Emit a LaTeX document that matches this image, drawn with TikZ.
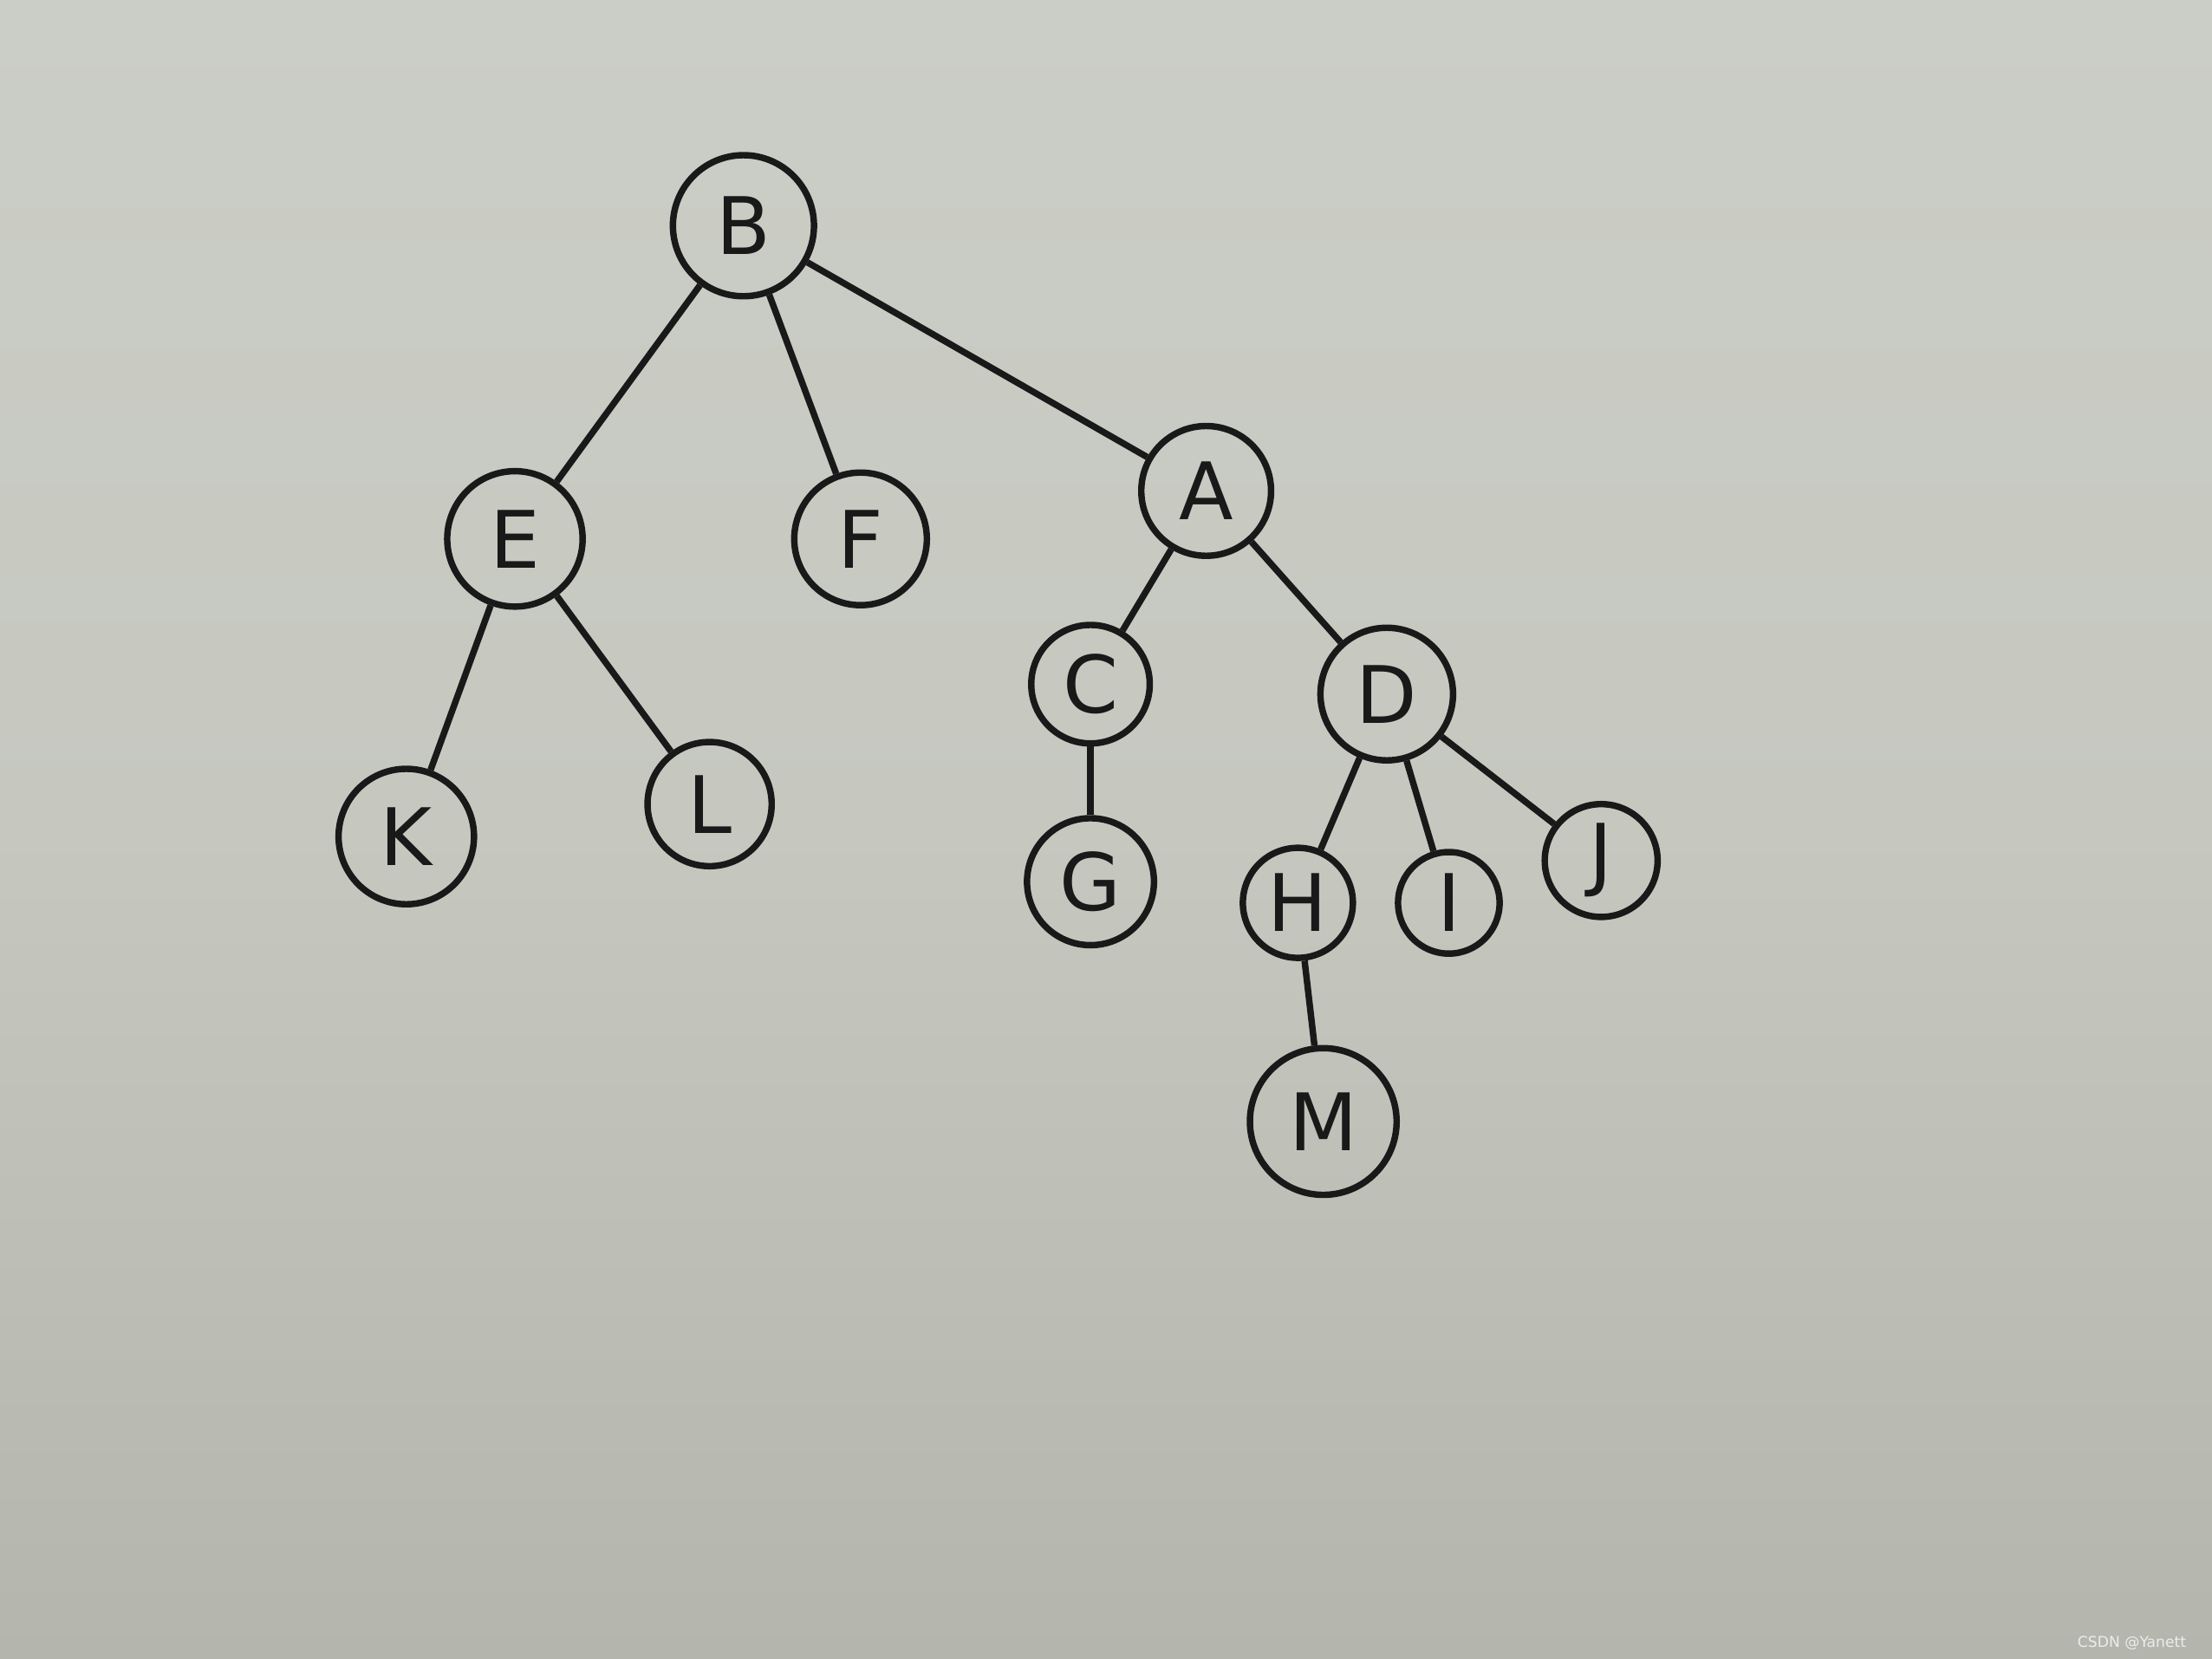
\documentclass[tikz,border=0pt]{standalone}
\usepackage{fontspec}
\setmainfont{DejaVu Sans}
\begin{document}
\begin{tikzpicture}[
  tn/.style={draw=black!90, circle, line width=1.3pt, inner sep=0pt, font=\fontsize{16}{18}\selectfont, text=black!90},
  ed/.style={line width=1.3pt, draw=black!90}
]
\definecolor{papertop}{HTML}{CBCEC6}
\definecolor{papermid}{HTML}{C6C8C0}
\definecolor{paperbot}{HTML}{B4B6AE}
\shade[top color=papertop, bottom color=paperbot, middle color=papermid] (0,0) rectangle (15.68,-11.76);
\useasboundingbox (0,0) rectangle (15.68,-11.76);
\node[tn, minimum size=1.00cm] (B) at (5.27,-1.60) {B};
\node[tn, minimum size=0.96cm] (E) at (3.65,-3.82) {E};
\node[tn, minimum size=0.94cm] (F) at (6.10,-3.82) {F};
\node[tn, minimum size=0.92cm] (A) at (8.55,-3.48) {A};
\node[tn, minimum size=0.96cm] (K) at (2.88,-5.93) {K};
\node[tn, minimum size=0.88cm] (L) at (5.03,-5.70) {L};
\node[tn, minimum size=0.84cm] (C) at (7.73,-4.85) {C};
\node[tn, minimum size=0.94cm] (D) at (9.83,-4.92) {D};
\node[tn, minimum size=0.90cm] (G) at (7.73,-6.25) {G};
\node[tn, minimum size=0.78cm] (H) at (9.20,-6.40) {H};
\node[tn, minimum size=0.72cm] (I) at (10.27,-6.40) {I};
\node[tn, minimum size=0.80cm] (J) at (11.35,-6.10) {J};
\node[tn, minimum size=1.04cm] (M) at (9.38,-7.95) {M};
\draw[ed] (B) -- (E);
\draw[ed] (B) -- (F);
\draw[ed] (B) -- (A);
\draw[ed] (E) -- (K);
\draw[ed] (E) -- (L);
\draw[ed] (A) -- (C);
\draw[ed] (A) -- (D);
\draw[ed] (C) -- (G);
\draw[ed] (D) -- (H);
\draw[ed] (D) -- (I);
\draw[ed] (D) -- (J);
\draw[ed] (H) -- (M);
\node[font=\fontsize{3}{3}\selectfont, text=white!85!gray, anchor=east] (wm) at (15.62,-11.65) {CSDN @Yanett};
\end{tikzpicture}
\end{document}
